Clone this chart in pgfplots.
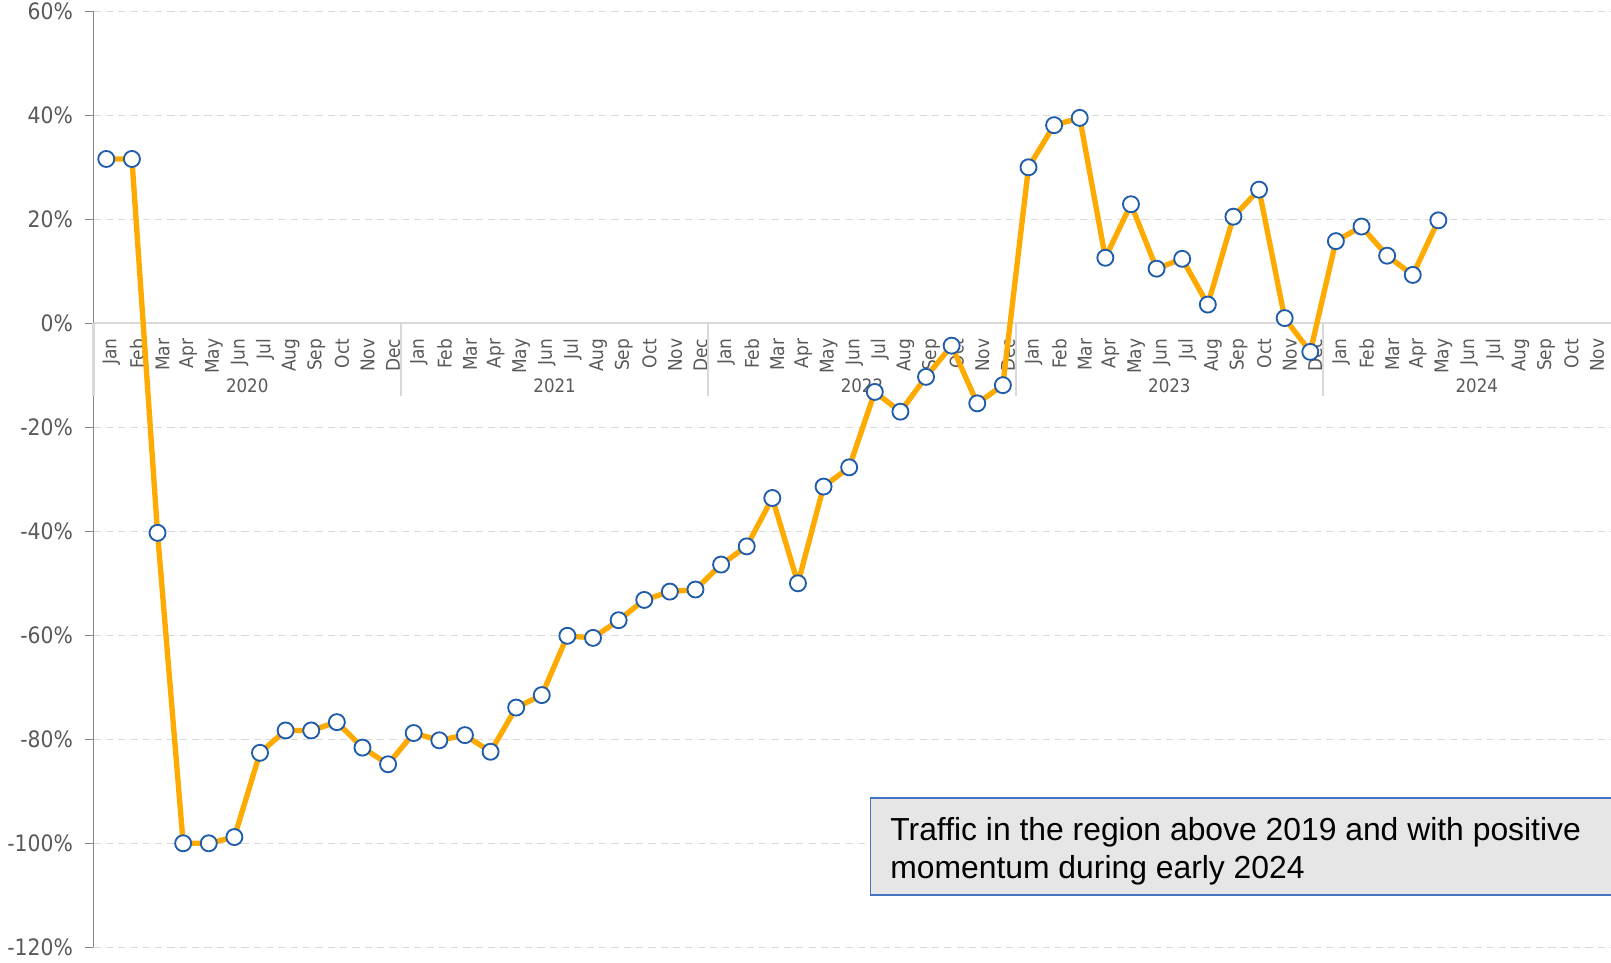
\documentclass[border=0pt]{standalone}
\usepackage{fontspec}
\setmainfont[FakeStretch=0.9]{DejaVu Sans}
\newfontfamily\boxfont{Liberation Sans}
\usepackage{pgfplots}
\usepackage{pgfplotstable}
\pgfplotsset{compat=1.18}
\definecolor{lineorange}{RGB}{255,170,0}
\definecolor{markblue}{RGB}{31,92,170}
\definecolor{axisgray}{RGB}{134,134,134}
\definecolor{labelgray}{RGB}{89,89,89}
\definecolor{gridgray}{RGB}{217,217,217}
\definecolor{boxfill}{RGB}{230,230,230}
\definecolor{boxedge}{RGB}{68,114,196}

% monthly traffic vs 2019, Jan 2020 = 0
\pgfplotstableread{
x y
0 31.6
1 31.6
2 -40.3
3 -100.0
4 -100.0
5 -98.8
6 -82.6
7 -78.3
8 -78.3
9 -76.7
10 -81.6
11 -84.8
12 -78.8
13 -80.2
14 -79.2
15 -82.4
16 -73.9
17 -71.5
18 -60.1
19 -60.5
20 -57.1
21 -53.2
22 -51.6
23 -51.2
24 -46.4
25 -42.9
26 -33.6
27 -50.0
28 -31.4
29 -27.7
30 -13.2
31 -17.0
32 -10.3
33 -4.3
34 -15.4
35 -11.9
36 30.0
37 38.1
38 39.5
39 12.6
40 22.9
41 10.5
42 12.4
43 3.6
44 20.5
45 25.7
46 1.0
47 -5.5
48 15.8
49 18.6
50 13.0
51 9.3
52 19.8
}\traffic

\begin{document}
\begin{tikzpicture}
\path[use as bounding box] (-45.5pt,-7.5pt) rectangle (738.5pt,461pt);
\begin{axis}[
  scale only axis, width=738.5pt, height=455.5pt,
  xmin=-0.5, xmax=58.74, ymin=-120, ymax=60,
  clip=false,
  axis x line*=middle, axis y line*=left,
  x axis line style={draw=gridgray, line width=1pt},
  y axis line style={draw=axisgray, line width=0.75pt},
  ytick={-120,-100,...,60},
  yticklabel={\pgfmathprintnumber{\tick}\%},
  /pgf/number format/assume math mode=true,
  yticklabel style={font=\fontsize{11}{13}\selectfont, text=labelgray, xshift=-2.5pt},
  ytick style={draw=axisgray, line width=0.75pt},
  tick align=outside, major tick length=4pt,
  ymajorgrids,
  grid style={draw=gridgray, line width=0.6pt, dash pattern=on 3.5pt off 2.5pt},
  xtick={0,...,58},
  xticklabels={Jan,Feb,Mar,Apr,May,Jun,Jul,Aug,Sep,Oct,Nov,Dec,
               Jan,Feb,Mar,Apr,May,Jun,Jul,Aug,Sep,Oct,Nov,Dec,
               Jan,Feb,Mar,Apr,May,Jun,Jul,Aug,Sep,Oct,Nov,Dec,
               Jan,Feb,Mar,Apr,May,Jun,Jul,Aug,Sep,Oct,Nov,Dec,
               Jan,Feb,Mar,Apr,May,Jun,Jul,Aug,Sep,Oct,Nov},
  xtick style={draw=none},
  xticklabel style={rotate=90, anchor=east, yshift=-2.5pt,
                    font=\fontsize{9.2}{10}\selectfont, text=labelgray},
]
% hide the value axis behind the category band
\draw[gridgray, line width=1pt] (axis cs:-0.5,0) -- (axis cs:-0.5,-14);
\pgfplotsinvokeforeach{11.5,23.5,35.5,47.5}{
  \draw[gridgray, line width=1pt] (axis cs:#1,0) -- (axis cs:#1,-14);
}
\node[text=labelgray, font=\fontsize{9}{10}\selectfont] at (axis cs:5.5,-12) {2020};
\node[text=labelgray, font=\fontsize{9}{10}\selectfont] at (axis cs:17.5,-12) {2021};
\node[text=labelgray, font=\fontsize{9}{10}\selectfont] at (axis cs:29.5,-12) {2022};
\node[text=labelgray, font=\fontsize{9}{10}\selectfont] at (axis cs:41.5,-12) {2023};
\node[text=labelgray, font=\fontsize{9}{10}\selectfont] at (axis cs:53.5,-12) {2024};

\addplot[lineorange, line width=2.6pt, mark=*, mark size=3.9pt,
  mark options={fill=white, draw=markblue, line width=0.9pt}]
  table[x=x, y=y] {\traffic};

% note box, running off the right edge
\fill[boxfill] (axis cs:29.83,-91.3) rectangle (axis cs:58.9,-109.9);
\draw[boxedge, line width=0.8pt] (axis cs:58.9,-91.3) -- (axis cs:29.83,-91.3)
  -- (axis cs:29.83,-109.9) -- (axis cs:58.9,-109.9);
\node[anchor=north west, align=left, inner sep=0pt,
  font=\boxfont\fontsize{15.5}{18.75}\selectfont]
  at ([xshift=9.5pt, yshift=-9pt]axis cs:29.83,-91.3)
  {Traffic in the region above 2019 and with positive\\momentum during early 2024};
\end{axis}
\end{tikzpicture}
\end{document}
